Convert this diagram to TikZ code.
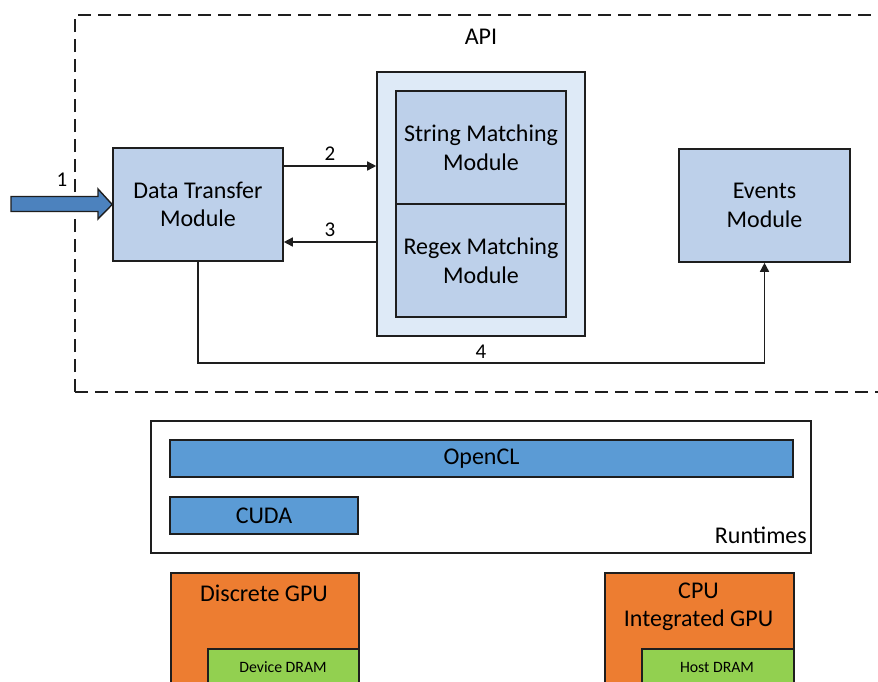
\documentclass[tikz,border=0pt]{standalone}
\usepackage{fontspec}
\setmainfont{Carlito}
\usetikzlibrary{arrows.meta}
\definecolor{modfill}{HTML}{BDD0EA}
\definecolor{groupfill}{HTML}{DEEAF7}
\definecolor{rtblue}{HTML}{5B9BD5}
\definecolor{inblue}{HTML}{4C82BE}
\definecolor{hwor}{HTML}{ED7D31}
\definecolor{memgr}{HTML}{92D050}
\definecolor{edge}{HTML}{1E1E1E}
\tikzset{
  box/.style={draw=edge, line width=1.6pt, inner sep=0pt, align=center,
    font=\fontsize{24}{28.5}\selectfont},
  module/.style={box, fill=modfill},
  runtime/.style={box, fill=rtblue},
  device/.style={box, fill=hwor},
  memory/.style={box, fill=memgr},
  lbl/.style={inner sep=0pt, font=\fontsize{24}{28.5}\selectfont},
  small/.style={inner sep=0pt, font=\fontsize{15.8}{18}\selectfont},
  num/.style={inner sep=0pt, font=\fontsize{21}{24}\selectfont},
  arr/.style={draw=edge, line width=1.5pt, -{Triangle[length=9pt,width=9pt]}},
}
\begin{document}
\begin{tikzpicture}[x=1pt,y=-1pt]
\useasboundingbox (0,0) rectangle (878,681);

% API boundary
\draw[edge, line width=1.5pt, dash pattern=on 13pt off 7pt]
  (75,392) -- (75,15) -- (900,15) (75,392) -- (900,392);
\node[lbl] (api) at (481,37) {API};

% modules
\node[module, minimum width=170pt, minimum height=113pt] (dt) at (198,204.5) {Data Transfer\\Module};
\node[box, fill=groupfill, minimum width=208pt, minimum height=264pt] (grp) at (481,204) {};
\node[module, minimum width=170pt, minimum height=113pt] (sm) at (481,147.5) {String Matching\\Module};
\node[module, minimum width=170pt, minimum height=113pt] (rm) at (481,260.5) {Regex Matching\\Module};
\node[module, minimum width=171pt, minimum height=113pt] (ev) at (764.5,205.5) {Events\\Module};

% input arrow
\draw[edge, line width=1.4pt, fill=inblue]
  (11,196.5) -- (98,196.5) -- (98,189) -- (dt.west) -- (98,219) -- (98,211.5) -- (11,211.5) -- cycle;
\node[num] (n1) at (62,180) {1};

% data flow
\draw[arr] (dt.east |- 0,166) -- (grp.west |- 0,166);
\node[num] (n2) at (330,154) {2};
\draw[arr] (grp.west |- 0,242) -- (dt.east |- 0,242);
\node[num] (n3) at (330,230) {3};
\draw[arr] (dt.south) -- (198,363) -| (ev.south);
\node[num] (n4) at (481,352) {4};

% runtimes
\node[box, fill=white, minimum width=660pt, minimum height=132pt] (rt) at (481,487) {};
\node[runtime, minimum width=623pt, minimum height=37pt] (ocl) at (481.5,458.5) {OpenCL};
\node[runtime, minimum width=188pt, minimum height=37pt] (cuda) at (264,515.5) {CUDA};
\node[lbl, anchor=east] (rtl) at (807,535) {Runtimes};

% hardware
\node[device, minimum width=188pt, minimum height=130pt, anchor=north west] (dgpu) at (170,572) {};
\node[lbl] (dgput) at (264,593) {Discrete GPU};
\node[memory, minimum width=151pt, minimum height=60pt, anchor=north west] (ddram) at (207,648) {};
\node[small] (ddramt) at (283,667) {Device DRAM};

\node[device, minimum width=189pt, minimum height=130pt, anchor=north west] (cpu) at (604,572) {};
\node[lbl, align=center] (cput) at (698.5,607) {CPU\\Integrated GPU};
\node[memory, minimum width=152pt, minimum height=60pt, anchor=north west] (hdram) at (641,648) {};
\node[small] (hdramt) at (717,667) {Host DRAM};
\end{tikzpicture}
\end{document}
